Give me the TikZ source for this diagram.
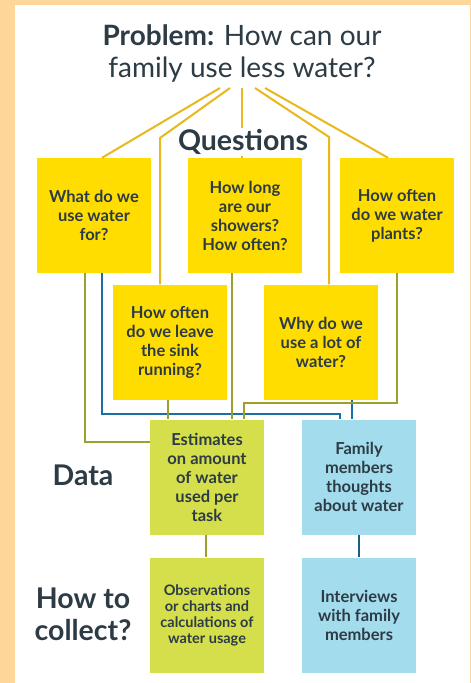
\documentclass[tikz,border=0pt]{standalone}
\usepackage{fontspec}
\setmainfont{Lato}
\definecolor{peach}{HTML}{FFD699}
\definecolor{qyellow}{HTML}{FFDD00}
\definecolor{qline}{HTML}{E8B81C}
\definecolor{olive}{HTML}{9DA02B}
\definecolor{dgreen}{HTML}{D4DF4B}
\definecolor{dblue}{HTML}{A3DCEC}
\definecolor{bline}{HTML}{1A70A5}
\definecolor{bline2}{HTML}{1B5E80}
\definecolor{ink}{HTML}{2D3B45}
\tikzset{
  card/.style={minimum width=114pt, minimum height=115pt, inner sep=1pt,
    align=center, text=ink, font=\bfseries\fontsize{16.5}{19}\selectfont},
  qcard/.style={card, fill=qyellow},
  gcard/.style={card, fill=dgreen},
  bcard/.style={card, fill=dblue},
  heading/.style={text=ink, align=center, font=\bfseries\fontsize{28.5}{32}\selectfont},
  yel/.style={draw=qline, line width=2pt},
  olv/.style={draw=olive, line width=2pt},
  blu/.style={draw=bline, line width=2pt},
}
\begin{document}
\begin{tikzpicture}[x=1pt, y=-1pt]
\useasboundingbox (0,0) rectangle (471,683);
\fill[peach] (0,0) rectangle (471,683);
\fill[white] (15,5) rectangle (470,683);

% problem statement
\node[text=ink, align=center, font=\fontsize{28}{32}\selectfont] (title) at (242,53)
  {\textbf{Problem:} How can our\\family use less water?};

% question cards
\node[qcard] (q1) at (94,215.5) {What do we\\use water\\for?};
\node[qcard] (q3) at (245,215.5) {How long\\are our\\showers?\\How often?};
\node[qcard] (q5) at (397,215.5) {How often\\do we water\\plants?};
\node[qcard] (q2) at (170,342) {How often\\do we leave\\the sink\\running?};
\node[qcard] (q4) at (321,342) {Why do we\\use a lot of\\water?};

% data cards
\node[gcard] (d1) at (207,477) {Estimates\\on amount\\of water\\used per\\task};
\node[bcard] (d2) at (359,477) {Family\\members\\thoughts\\about water};

% collection cards
\node[gcard, font=\bfseries\fontsize{14.5}{16}\selectfont] (c1) at (207,615)
  {Observations\\or charts and\\calculations of\\water usage};
\node[bcard] (c2) at (359,615) {Interviews\\with family\\members};

% row labels
\node[heading] (ldata) at (83,475) {Data};
\node[heading] (lcoll) at (83,614) {How to\\collect?};

% branches from the problem statement
\coordinate (pA) at (220,88);
\coordinate (pB) at (230,88);
\coordinate (pC) at (242,88);
\coordinate (pD) at (255,88);
\coordinate (pE) at (265,88);
\coordinate (bB) at (160,138);
\coordinate (bD) at (329,137);
\draw[yel] (pA) -- ([xshift=8pt]q1.north);
\draw[yel] (pB) -- (bB) -- (bB |- q2.north);
\draw[yel] (pC) -- (pC |- q3.north);
\draw[yel] (pD) -- (bD) -- (bD |- q4.north);
\draw[yel] (pE) -- ([xshift=-9pt]q5.north);
\node[heading, fill=white, inner sep=1pt] (lq) at (243,142) {Questions};

% links from questions to data
\coordinate (k1) at (340,414);
\coordinate (k5) at (244,403);
\draw[blu] ([xshift=8pt]q1.south) |- (k1) -- (k1 |- d2.north);
\draw[blu] ([xshift=31pt]q4.south) -- ([xshift=-7pt]d2.north);
\draw[olv] ([xshift=-9pt]q1.south) |- ([yshift=35pt]d1.west);
\draw[olv] ([xshift=-2pt]q2.south) -- ([xshift=-39pt]d1.north);
\draw[olv] ([xshift=-13pt]q3.south) -- ([xshift=25pt]d1.north);
\draw[olv] (q5.south) |- (k5) -- (k5 |- d1.north);

% links from data to collection methods
\draw[olv] ([xshift=-1pt]d1.south) -- ([xshift=-1pt]c1.north);
\draw[draw=bline2, line width=2pt] (d2.south) -- (c2.north);
\end{tikzpicture}
\end{document}
